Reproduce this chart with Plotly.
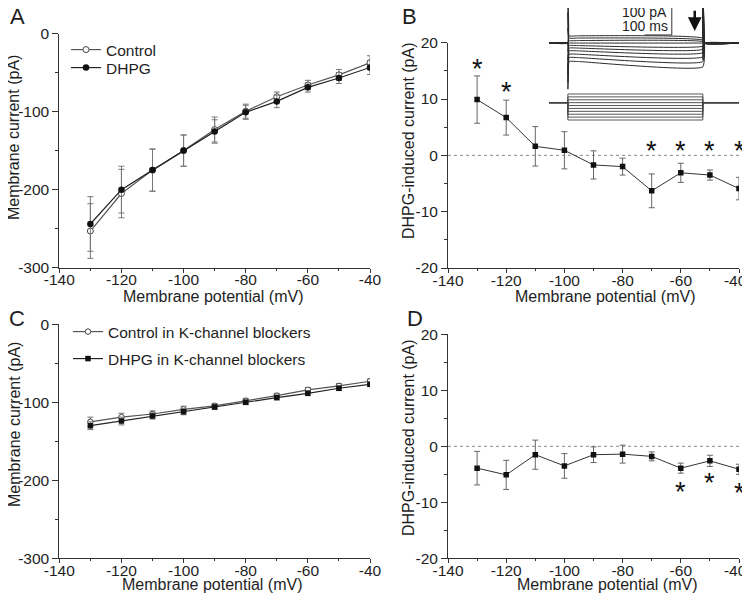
import plotly.graph_objects as go

# ---------------- data ----------------
potential = [-130, -120, -110, -100, -90, -80, -70, -60, -50, -40]

# Panel A
a_control = [-253, -205, -175, -150, -123, -99.5, -81, -66, -53, -37.5]
a_control_err = [35, 31, 27, 20, 16, 9, 6, 6, 7, 9]
a_dhpg = [-244, -200, -175, -150, -125.5, -101, -87, -69, -57, -43.5]
a_dhpg_err = [35, 30, 27, 20, 15, 9, 8, 6, 7, 9]

# Panel B
b_diff = [9.9, 6.7, 1.6, 0.9, -1.7, -2.0, -6.3, -3.1, -3.5, -5.9]
b_err = [4.2, 3.1, 3.5, 3.3, 2.5, 1.5, 3.0, 1.7, 0.9, 2.0]
b_star_x = [-130, -120, -70, -60, -50, -40]
b_star_y = [16.0, 11.9, 1.35, 1.35, 1.35, 1.35]

# Panel C
c_control = [-125, -119, -115, -109, -104.5, -98, -91.5, -84, -79, -73]
c_control_err = [6, 5, 4, 4, 3, 3, 3, 3, 3, 3]
c_dhpg = [-130, -124, -117.5, -112, -106, -100, -94, -88.5, -82, -77]
c_dhpg_err = [5, 5, 4, 4, 3, 3, 3, 3, 3, 3]

# Panel D
d_diff = [-3.9, -5.1, -1.5, -3.5, -1.5, -1.4, -1.8, -3.9, -2.6, -4.1]
d_err = [3.0, 2.6, 2.6, 2.2, 1.4, 1.6, 0.8, 0.9, 1.0, 0.9]
d_star_x = [-60, -50, -40]
d_star_y = [-7.5, -6.0, -7.8]

# Inset (panel B): example current traces and voltage protocol
holding_mv = -70
step_mv = [-40, -50, -60, -70, -80, -90, -100, -110, -120, -130]
trace_early_pa = [26, 18, 9, 0, -9, -18, -28, -40, -52, -66]
trace_late_pa = [17, 10, 5, 0, -11, -22, -34, -49, -66, -85]
trace_peak_on = [170, 110, 55, 0, -30, -60, -90, -115, -140, -165]
trace_peak_off = [-60, -40, -20, 0, 35, 70, 100, 130, 150, 170]
t_start, t_on, t_off, t_end = -70, 0, 500, 634
scale_t = [285, 385, 385]
scale_i = [29, 29, 129]

# tick values and labels
x_tickvals = [-140, -120, -100, -80, -60, -40]
x_ticktext = ["-140", "-120", "-100", "-80", "-60", "-40"]
x_ticktext_right = ["-140", "-120", "-100", "-80", "-60", "-40\u2002"]
i_tickvals = [0, -100, -200, -300]
i_ticktext = ["0", "-100", "-200", "-300"]
d_tickvals = [20, 10, 0, -10, -20]
d_ticktext = ["20", "10", "0", "-10", "-20"]

FONT = "Liberation Sans, Arial, sans-serif"
INK = "#1e1e1e"
OFF = 8              # page body margin of the viewer
W, H = 750 - OFF, 598 - OFF


def px(x):
    return (x - OFF) / W


def py(y):
    return 1 - (y - OFF) / H


fig = go.Figure()

# ---------- panel A ----------
fig.add_trace(go.Scatter(
    x=potential, y=a_control, mode="lines+markers", name="Control",
    line=dict(color="#555555", width=1.2),
    marker=dict(symbol="circle", size=6, color="white", line=dict(color="#444444", width=1)),
    error_y=dict(type="data", array=a_control_err, color="#777777", thickness=1, width=3),
    xaxis="x", yaxis="y", legend="legend"))
fig.add_trace(go.Scatter(
    x=potential, y=a_dhpg, mode="lines+markers", name="DHPG",
    line=dict(color="#222222", width=1.2),
    marker=dict(symbol="circle", size=6.5, color="#111111"),
    error_y=dict(type="data", array=a_dhpg_err, color="#777777", thickness=1, width=3),
    xaxis="x", yaxis="y", legend="legend2"))

# ---------- panel B ----------
fig.add_trace(go.Scatter(x=[-140, -40], y=[0, 0], mode="lines",
                         line=dict(color="#888888", width=1, dash="dot"),
                         showlegend=False, xaxis="x2", yaxis="y2", hoverinfo="skip"))
fig.add_trace(go.Scatter(
    x=potential, y=b_diff, mode="lines+markers", showlegend=False,
    line=dict(color="#333333", width=1),
    marker=dict(symbol="square", size=5.5, color="#111111"),
    error_y=dict(type="data", array=b_err, color="#666666", thickness=1, width=3),
    xaxis="x2", yaxis="y2"))

# ---------- panel C ----------
fig.add_trace(go.Scatter(
    x=potential, y=c_control, mode="lines+markers", name="Control in K-channel blockers",
    line=dict(color="#555555", width=1.2),
    marker=dict(symbol="circle", size=5.5, color="white", line=dict(color="#444444", width=1)),
    error_y=dict(type="data", array=c_control_err, color="#777777", thickness=1, width=3),
    xaxis="x3", yaxis="y3", legend="legend3"))
fig.add_trace(go.Scatter(
    x=potential, y=c_dhpg, mode="lines+markers", name="DHPG in K-channel blockers",
    line=dict(color="#222222", width=1.2),
    marker=dict(symbol="square", size=5.5, color="#111111"),
    error_y=dict(type="data", array=c_dhpg_err, color="#777777", thickness=1, width=3),
    xaxis="x3", yaxis="y3", legend="legend4"))

# ---------- panel D ----------
fig.add_trace(go.Scatter(x=[-140, -40], y=[0, 0], mode="lines",
                         line=dict(color="#888888", width=1, dash="dot"),
                         showlegend=False, xaxis="x4", yaxis="y4", hoverinfo="skip"))
fig.add_trace(go.Scatter(
    x=potential, y=d_diff, mode="lines+markers", showlegend=False,
    line=dict(color="#333333", width=1),
    marker=dict(symbol="square", size=5.5, color="#111111"),
    error_y=dict(type="data", array=d_err, color="#666666", thickness=1, width=3),
    xaxis="x4", yaxis="y4"))

# ---------- inset ----------
for early, late, pon, poff in zip(trace_early_pa, trace_late_pa, trace_peak_on, trace_peak_off):
    fig.add_trace(go.Scatter(
        x=[t_start, t_on, t_on, t_on + 4, t_on + 40, t_off, t_off, t_off + 4, t_end],
        y=[0, 0, pon, early, early, late, poff, 0, 0],
        mode="lines", line=dict(color="#2a2a2a", width=1, shape="spline", smoothing=0.3),
        showlegend=False, xaxis="x5", yaxis="y5", hoverinfo="skip"))
fig.add_trace(go.Scatter(x=scale_t, y=scale_i, mode="lines",
                         line=dict(color="#333333", width=1), showlegend=False,
                         xaxis="x5", yaxis="y5", hoverinfo="skip"))
for v in step_mv:
    fig.add_trace(go.Scatter(
        x=[t_start, t_on, t_on, t_off, t_off, t_end],
        y=[holding_mv, holding_mv, v, v, holding_mv, holding_mv],
        mode="lines", line=dict(color="#444444", width=0.9), showlegend=False,
        xaxis="x6", yaxis="y6", hoverinfo="skip"))

# ---------- axes ----------
axis_common = dict(showgrid=False, zeroline=False, showline=True, linecolor="#333333",
                   linewidth=1, ticks="outside", tickcolor="#333333",
                   tickfont=dict(family=FONT, size=15.5, color=INK), mirror=False,
                   automargin=False, ticklabeloverflow="allow")
xcommon = dict(axis_common, range=[-140, -40], tickvals=x_tickvals, ticktext=x_ticktext,
               ticklen=4, ticklabelstandoff=-6,
               minor=dict(dtick=10, ticks="outside", ticklen=2, tickcolor="#333333"))
ycommon = dict(axis_common, ticklen=6)
iy = dict(ycommon, range=[-300, 0], tickvals=i_tickvals, ticktext=i_ticktext,
          minor=dict(dtick=50, ticks="outside", ticklen=3, tickcolor="#333333"))
dy = dict(ycommon, range=[-20, 20], tickvals=d_tickvals, ticktext=d_ticktext,
          minor=dict(dtick=5, ticks="outside", ticklen=3, tickcolor="#333333"))

A_x = [px(59.3), px(370)]
B_x = [px(448), px(739)]

fig.update_layout(
    xaxis=dict(xcommon, domain=A_x, anchor="y"),
    yaxis=dict(iy, domain=[py(267.7), py(33.5)], anchor="x"),
    xaxis2=dict(xcommon, domain=B_x, anchor="y2", ticktext=x_ticktext_right),
    yaxis2=dict(dy, domain=[py(268), py(42.7)], anchor="x2"),
    xaxis3=dict(xcommon, domain=A_x, anchor="y3"),
    yaxis3=dict(iy, domain=[py(558.3), py(324.3)], anchor="x3"),
    xaxis4=dict(xcommon, domain=B_x, anchor="y4", ticktext=x_ticktext_right),
    yaxis4=dict(dy, domain=[py(558.3), py(334.3)], anchor="x4"),
    xaxis5=dict(domain=[px(549), px(739)], range=[t_start, t_end], visible=False, anchor="y5"),
    yaxis5=dict(domain=[py(92), py(OFF)], range=[-175, 154 - OFF / 0.28], visible=False,
                anchor="x5"),
    xaxis6=dict(domain=[px(549), px(739)], range=[t_start, t_end], visible=False, anchor="y6"),
    yaxis6=dict(domain=[py(122), py(90)], range=[-136.9, -26.2], visible=False, anchor="x6"),
)

# ---------- text ----------
ann = []


def label(text, x, y, size=16, angle=0, xanchor="center"):
    ann.append(dict(text=text, x=px(x), y=py(y), xref="paper", yref="paper",
                    showarrow=False, textangle=angle, xanchor=xanchor, yanchor="middle",
                    font=dict(family=FONT, size=size, color=INK)))


label("A", 17, 17, 22)
label("B", 409, 17, 22)
label("C", 17, 318, 22)
label("D", 415, 318, 22)
label("Membrane potential (mV)", 213, 296)
label("Membrane potential (mV)", 605, 296)
label("Membrane potential (mV)", 212, 584)
label("Membrane potential (mV)", 607, 584)
label("Membrane current (pA)", 14, 138, angle=-90)
label("DHPG-induced current (pA)", 408, 140, angle=-90)
label("Membrane current (pA)", 14, 425, angle=-90)
label("DHPG-induced current (pA)", 408, 437, angle=-90)
label("100 pA", 669, 12, 14, xanchor="right")
label("100 ms", 670, 25.5, 14, xanchor="right")

for sx, sy in zip(b_star_x, b_star_y):
    ann.append(dict(text="*", x=sx, y=sy, xref="x2", yref="y2", showarrow=False,
                    yshift=-3.5, font=dict(family=FONT, size=27, color="#111111")))
for sx, sy in zip(d_star_x, d_star_y):
    ann.append(dict(text="*", x=sx, y=sy, xref="x4", yref="y4", showarrow=False,
                    yshift=-3.5, font=dict(family=FONT, size=27, color="#111111")))

ann.append(dict(x=470, y=43, xref="x5", yref="y5", ax=470, ay=121, axref="x5", ayref="y5",
                showarrow=True, arrowhead=2, arrowsize=1.1, arrowwidth=2.5,
                arrowcolor="#111111", text=""))

leg = dict(xanchor="left", yanchor="top", font=dict(family=FONT, size=15.5, color=INK),
           bgcolor="rgba(0,0,0,0)", itemwidth=30)

fig.update_layout(
    annotations=ann,
    width=W, height=H, margin=dict(l=0, r=0, t=0, b=0, autoexpand=False),
    paper_bgcolor="white", plot_bgcolor="white",
    font=dict(family=FONT, color=INK),
    showlegend=True,
    legend=dict(leg, x=px(66), y=py(33)),
    legend2=dict(leg, x=px(66), y=py(51)),
    legend3=dict(leg, x=px(68), y=py(315)),
    legend4=dict(leg, x=px(68), y=py(342)),
)

fig.write_html("out.html")
